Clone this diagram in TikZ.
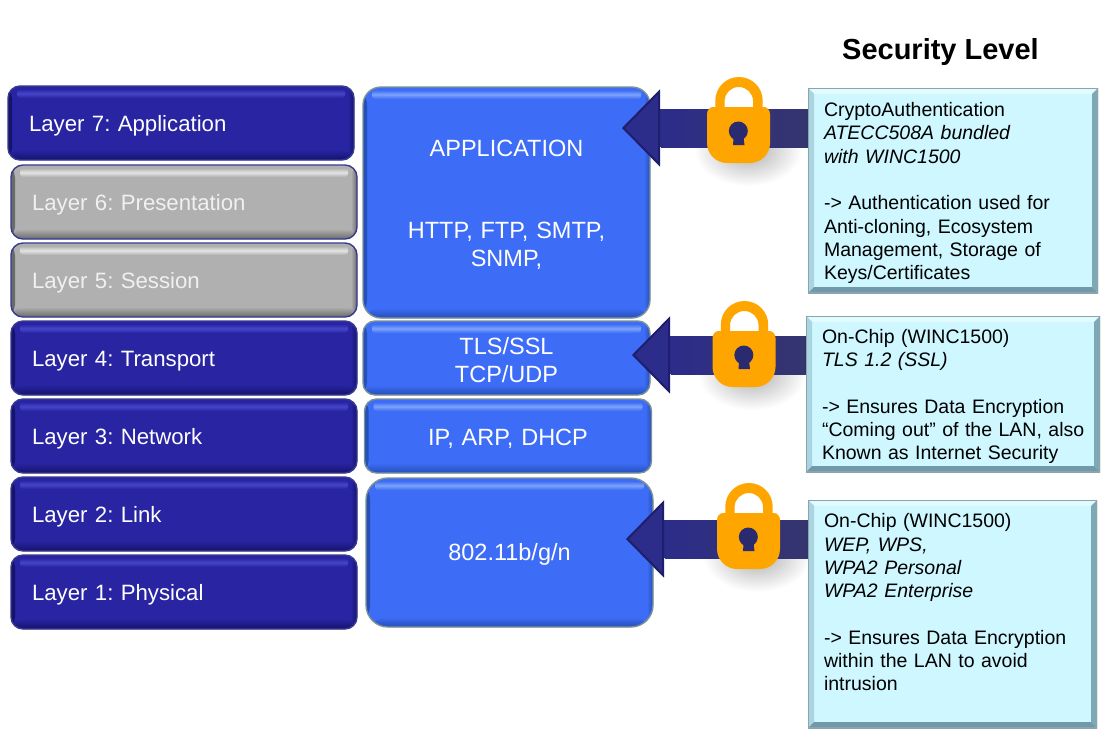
\documentclass[tikz,border=0pt]{standalone}
\usepackage{fontspec}
\setmainfont{Liberation Sans}
\frenchspacing
\usetikzlibrary{arrows.meta,calc,shapes.geometric}
\definecolor{navybase}{HTML}{2824A2}
\definecolor{navyhi}{HTML}{4646C8}
\definecolor{navydark}{HTML}{14146A}
\definecolor{navyedge}{HTML}{3A3A90}
\definecolor{greybase}{HTML}{B0B0B0}
\definecolor{greyhi}{HTML}{E4E4E4}
\definecolor{greydark}{HTML}{6A6A6A}
\definecolor{blubase}{HTML}{3D6CF6}
\definecolor{bluhi}{HTML}{7CA4FA}
\definecolor{bludark}{HTML}{2450B8}
\definecolor{bluedge}{HTML}{7E9292}
\definecolor{skybase}{HTML}{CEF7FF}
\definecolor{skytop}{HTML}{E2FBFF}
\definecolor{skyleft}{HTML}{A9D4E0}
\definecolor{skyright}{HTML}{7FA8B5}
\definecolor{skybottom}{HTML}{7199AA}
\definecolor{skyedge}{HTML}{8AA5AD}
\definecolor{arrowbody}{HTML}{2C2C8A}
\definecolor{arrowedge}{HTML}{1E1E6C}
\definecolor{arrowend}{HTML}{35356E}
\definecolor{lockgold}{HTML}{FFA500}
\definecolor{keydark}{HTML}{2A2A70}
\tikzset{
  x=1pt,y=-1pt,
  bevel/.style n args={4}{
    fill=#1,draw=#4,line width=1.4pt,rounded corners=12pt,
    path picture={
      \shade[left color=#3,right color=#1]
        (path picture bounding box.north west) rectangle
        ([xshift=4pt]path picture bounding box.south west);
      \shade[left color=#1,right color=#3]
        ([xshift=-6pt]path picture bounding box.north east) rectangle
        (path picture bounding box.south east);
      \shade[top color=#1,bottom color=#3]
        ([yshift=10pt]path picture bounding box.south west) rectangle
        (path picture bounding box.south east);
      \shade[top color=#1,bottom color=#1,middle color=#2,rounded corners=3pt]
        ([xshift=9pt,yshift=-3pt]path picture bounding box.north west) rectangle
        ([xshift=-9pt,yshift=-12pt]path picture bounding box.north east);
    }},
  layerbox/.style={bevel={navybase}{navyhi}{navydark}{navyedge},text=white,
    minimum width=346pt,minimum height=74pt,text width=304pt,inner xsep=21pt,inner ysep=0pt,
    align=left,font=\fontsize{22.2}{27.3}\selectfont,
    execute at begin node={\rule{0pt}{22.3pt}}},
  greybox/.style={layerbox,bevel={greybase}{greyhi}{greydark}{navyedge},text=white!94!black},
  protobox/.style={bevel={blubase}{bluhi}{bludark}{bluedge},text=white,
    minimum width=287pt,inner xsep=4pt,inner ysep=0pt,text width=279pt,align=center,
    font=\fontsize{23.5}{27.3}\selectfont,
    execute at begin node={\rule{0pt}{21pt}}},
  securebox/.style={fill=skybase,draw=none,inner ysep=0pt,inner xsep=16pt,align=left,
    font=\fontsize{19.5}{23.3}\selectfont,text=black,
    path picture={
      \coordinate (nw) at (path picture bounding box.north west);
      \coordinate (ne) at (path picture bounding box.north east);
      \coordinate (sw) at (path picture bounding box.south west);
      \coordinate (se) at (path picture bounding box.south east);
      \fill[skytop] (nw) -- (ne) -- ([xshift=-6pt,yshift=-6pt]ne) -- ([xshift=6pt,yshift=-6pt]nw) -- cycle;
      \fill[skyleft] (nw) -- (sw) -- ([xshift=6pt,yshift=6pt]sw) -- ([xshift=6pt,yshift=-6pt]nw) -- cycle;
      \fill[skyright] (ne) -- (se) -- ([xshift=-6pt,yshift=6pt]se) -- ([xshift=-6pt,yshift=-6pt]ne) -- cycle;
      \fill[skybottom] (sw) -- (se) -- ([xshift=-6pt,yshift=6pt]se) -- ([xshift=6pt,yshift=6pt]sw) -- cycle;
      \draw[line width=1.2pt,skyedge] (nw) rectangle (se);
    }},
  shiftedtext/.style={execute at begin node={\rule{0pt}{19.2pt}}},
  titlelabel/.style={font=\fontsize{29}{33}\selectfont\bfseries,text=black},
  bigarrow/.style={draw=arrowbody,line width=38pt,
    -{Triangle[length=38pt,width=77pt,line width=2pt,fill=arrowbody,color=arrowedge]}},
  lockshadow/.style={shade,shading=radial,inner color=black!32,outer color=white},
  padlock/.pic={
    \fill[lockgold,even odd rule]
      (8.3,36) -- (8.3,23.6) .. controls (8.3,10.6) and (18.9,0) .. (32,0)
      .. controls (45.1,0) and (55.7,10.6) .. (55.7,23.6) -- (55.7,36) -- cycle
      (17.6,31) -- (46,31) -- (46,24) .. controls (46,16.3) and (39.6,10) .. (31.8,10)
      .. controls (24,10) and (17.6,16.3) .. (17.6,24) -- cycle;
    \fill[lockgold] (6,30) -- (57,30) .. controls (60,30) and (63,33) .. (63,37)
      -- (63,66) .. controls (63,77) and (54,86) .. (43,86) -- (20,86)
      .. controls (9,86) and (0,77) .. (0,66) -- (0,37)
      .. controls (0,33) and (3,30) .. (6,30) -- cycle;
    \fill[keydark] (31.3,54) circle[radius=9.5pt];
    \fill[keydark] (27,56) -- (36,56) -- (37.5,68) -- (26,68) -- cycle;
  }
}
\begin{document}
\begin{tikzpicture}
\useasboundingbox (0,0) rectangle (1102,729);
\fill[white] (0,0) rectangle (1102,729);

% lock shadows lie under everything else
\path[lockshadow] (748,150) ellipse [x radius=54pt,y radius=36pt];
\path[lockshadow] (752,374) ellipse [x radius=54pt,y radius=36pt];
\path[lockshadow] (757,556) ellipse [x radius=54pt,y radius=36pt];

% OSI layers
\node[layerbox] (l7) at (181,123) {Layer 7: Application};
\node[greybox]  (l6) at (184,202) {Layer 6: Presentation};
\node[greybox]  (l5) at (184,280) {Layer 5: Session};
\node[layerbox] (l4) at (184,358) {Layer 4: Transport};
\node[layerbox] (l3) at (184,436) {Layer 3: Network};
\node[layerbox] (l2) at (184,514) {Layer 2: Link};
\node[layerbox] (l1) at (184,592) {Layer 1: Physical};

% protocol boxes
\node[protobox,minimum height=231pt,rounded corners=18pt] (app) at (506.5,202.5)
  {APPLICATION\\~\\~\\HTTP, FTP, SMTP,\\SNMP,};
\node[protobox,minimum height=74pt] (tls) at (506.5,358) {TLS/SSL\\TCP/UDP};
\node[protobox,minimum height=74pt] (ip) at (508,436) {IP, ARP, DHCP};
\node[protobox,minimum height=149pt,rounded corners=22pt] (link) at (509.5,552.5) {802.11b/g/n};

% security boxes
\node[titlelabel] (title) at (940.5,52) {Security Level};
\node[securebox,shiftedtext,minimum width=290pt,minimum height=205pt,text width=258pt] (s1) at (953,190.5)
  {CryptoAuthentication\\\textit{ATECC508A bundled}\\\textit{with WINC1500}\\~\\-> Authentication used for\\Anti-cloning, Ecosystem\\Management, Storage of\\Keys/Certificates};
\node[securebox,shiftedtext,minimum width=294pt,minimum height=156pt,text width=262pt] (s2) at (953,394)
  {On-Chip (WINC1500)\\\textit{TLS 1.2 (SSL)}\\~\\-> Ensures Data Encryption\\\makebox[258pt][l]{“Coming out” of the LAN, also}\\Known as Internet Security};
\node[securebox,minimum width=289pt,minimum height=228pt,text width=257pt] (s3) at (952.5,614)
  {On-Chip (WINC1500)\\\textit{WEP, WPS,}\\\textit{WPA2 Personal}\\\textit{WPA2 Enterprise}\\~\\-> Ensures Data Encryption\\within the LAN to avoid\\intrusion\\~};

% arrows
\coordinate (tipa) at (622,128);
\coordinate (tipb) at (632,355);
\coordinate (tipc) at (626,539);
\draw[bigarrow] (s1.west |- tipa) -- (tipa);
\draw[bigarrow] (s2.west |- tipb) -- (tipb);
\draw[bigarrow] (s3.west |- tipc) -- (tipc);
\shade[left color=arrowbody,right color=arrowend] (661,109) rectangle (s1.west |- 0,147);
\shade[left color=arrowbody,right color=arrowend] (671,336) rectangle (s2.west |- 0,374);
\shade[left color=arrowbody,right color=arrowend] (665,520) rectangle (s3.west |- 0,558);

% padlocks
\pic at (707,77) {padlock};
\pic at (712.5,301) {padlock};
\pic at (717,483) {padlock};
\end{tikzpicture}
\end{document}
